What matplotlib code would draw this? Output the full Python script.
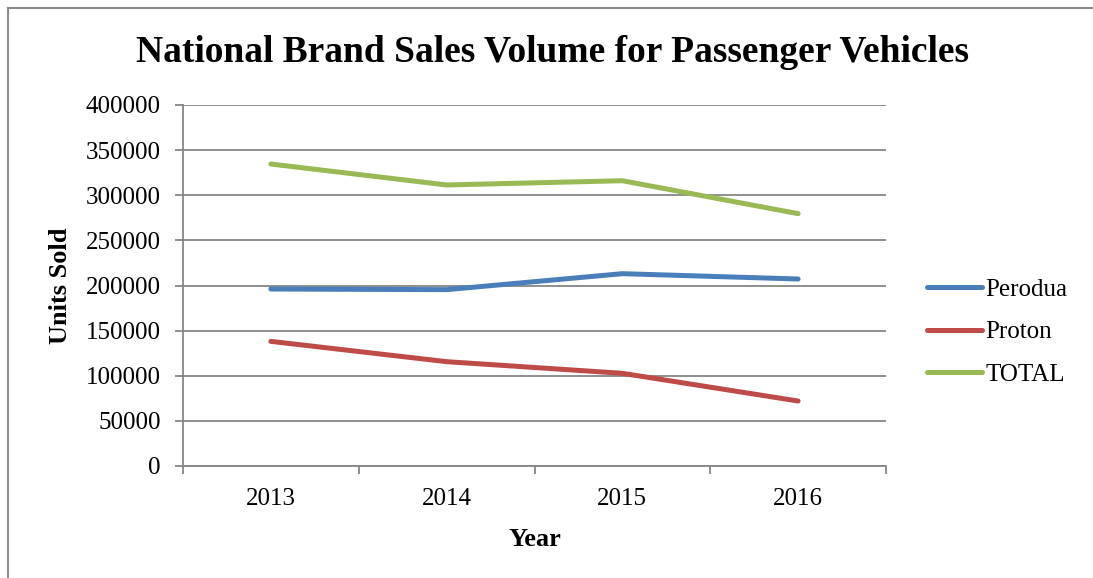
import numpy as np
import matplotlib.pyplot as plt
from matplotlib.lines import Line2D

years = ['2013', '2014', '2015', '2016']
perodua = [196100, 195400, 213100, 207200]
proton = [138100, 115600, 102700, 72000]
total = [334600, 311400, 316100, 279600]

series = [('Perodua', perodua, '#4A7EBB'),
          ('Proton', proton, '#BE4B48'),
          ('TOTAL', total, '#98B954')]

plt.rcParams['font.family'] = ['Liberation Serif', 'DejaVu Serif']
W, H = 1093, 578
fig = plt.figure(figsize=(W / 100, H / 100), dpi=100)
ax = fig.add_axes([183 / W, 1 - 466 / H, (886 - 183) / W, (466 - 105) / H])

x = np.arange(len(years))
for name, vals, col in series:
    ax.plot(x, vals, color=col, lw=3.6, solid_capstyle='round',
            solid_joinstyle='round', label=name)

grid_col = '#868686'
ax.set_ylim(0, 400000)
ax.set_yticks(np.arange(0, 400001, 50000))
ax.yaxis.grid(True, color=grid_col, lw=1.3)
ax.set_axisbelow(True)
ax.set_xlim(-0.5, len(years) - 0.5)
ax.set_xticks(x)
ax.set_xticklabels(years)
ax.set_xticks(np.arange(-0.5, len(years)), minor=True)
ax.tick_params(axis='x', which='major', length=0, pad=16, labelsize=18)
ax.tick_params(axis='x', which='minor', length=6, width=1.3, color=grid_col,
               direction='out')
ax.tick_params(axis='y', length=6, width=1.3, color=grid_col, pad=10,
               labelsize=18, direction='out')

for s in ['top', 'right']:
    ax.spines[s].set_visible(False)
for s in ['left', 'bottom']:
    ax.spines[s].set_color(grid_col)
    ax.spines[s].set_linewidth(1.3)

ax.set_xlabel('Year', fontsize=19, fontweight='bold', labelpad=13)
ax.set_ylabel('Units Sold', fontsize=19, fontweight='bold', labelpad=10)

fig.text(553 / W, 1 - 53 / H, 'National Brand Sales Volume for Passenger Vehicles',
         ha='center', va='center', fontsize=27, fontweight='bold')

leg = fig.legend(loc='center left', bbox_to_anchor=(904 / W, 1 - 332 / H),
                 frameon=False, fontsize=18, handlelength=2.2,
                 handletextpad=0.15, labelspacing=0.8)

# outer chart border
fig.add_artist(Line2D([8 / W, 1], [1 - 8 / H, 1 - 8 / H], color='#8c8c8c', lw=1.5))
fig.add_artist(Line2D([8 / W, 8 / W], [0, 1 - 8 / H], color='#8c8c8c', lw=1.5))

fig.savefig('out.png', dpi=100)
